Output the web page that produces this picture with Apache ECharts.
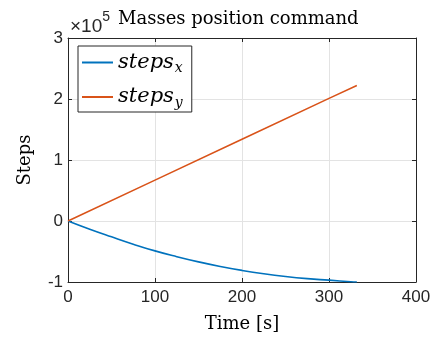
<!DOCTYPE html>
<html>
<head>
<meta charset="utf-8">
<script src="https://cdn.jsdelivr.net/npm/echarts@6/dist/echarts.min.js"></script>
<style>
  html, body { margin: 0; padding: 0; background: #fff; }
  #chart { width: 436px; height: 340px; }
</style>
</head>
<body>
<div id="chart"></div>
<script>
// time [s] and commanded steps
const stepsXTime = [0, 25, 50, 75, 100, 125, 150, 175, 200, 225, 250, 275, 300, 325, 332];
const stepsXValues = [0, -13500, -26000, -38000, -49000, -58500, -67000, -74500, -81000, -86500, -91000, -94500, -97000, -99500, -100000];
const stepsYTime = [0, 100, 200, 300, 332];
const stepsYValues = [0, 67000, 134000, 201000, 222000];
const xTicks = [0, 100, 200, 300, 400];
const yTicks = [-1, 0, 1, 2, 3];
const yScale = 1e5;

const axisColor = "#262626";
const gridColor = "#e3e3e3";
const sans = "Liberation Sans";
const serif = "DejaVu Serif";

const chart = echarts.init(document.getElementById("chart"));

const legendRich = {
  a: { fontFamily: serif, fontStyle: "italic", fontSize: 21, lineHeight: 26, color: "#000" },
  b: { fontFamily: serif, fontStyle: "italic", fontSize: 14, lineHeight: 26, color: "#000", verticalAlign: "bottom", padding: [8, 0, 0, 1] },
};

const options = {
  backgroundColor: "#fff",
  animation: false,
  title: [
    {
      text: "{m|×10}{e|5}",
      left: 65,
      top: 5,
      textStyle: {
        rich: {
          m: { fontFamily: sans, fontSize: 19, fontWeight: "normal", color: axisColor, padding: [7, 0, 0, 0] },
          e: { fontFamily: sans, fontSize: 14, fontWeight: "normal", color: axisColor, verticalAlign: "top", padding: [0, 0, 8, 0] },
        },
      },
    },
    {
      text: "Masses position command",
      left: 113,
      top: 5,
      textStyle: { fontFamily: serif, fontSize: 18, fontWeight: "normal", color: "#000" },
    },
  ],
  legend: {
    left: 78,
    top: 46,
    orient: "vertical",
    backgroundColor: "#fff",
    borderColor: axisColor,
    borderWidth: 1,
    borderRadius: 0,
    padding: [6, 9, 2, 4],
    icon: "rect",
    itemWidth: 31,
    itemHeight: 2,
    itemGap: 11,
    itemTextGap: 5,
    formatter(name) {
      return name === "steps_x" ? "{a|steps}{b|x}" : "{a|steps}{b|y}";
    },
    textStyle: { rich: legendRich },
    data: ["steps_x", "steps_y"],
  },
  grid: { left: 68, right: 20, top: 38, bottom: 58 },
  xAxis: [
    {
      type: "value",
      min: xTicks[0],
      max: xTicks[xTicks.length - 1],
      interval: 100,
      name: "Time [s]",
      nameLocation: "middle",
      nameGap: 33,
      nameTextStyle: { fontFamily: serif, fontSize: 18, color: "#000" },
      axisLine: { onZero: false, lineStyle: { color: axisColor, width: 1 } },
      axisTick: { inside: true, length: 4, lineStyle: { color: axisColor } },
      axisLabel: { fontFamily: sans, fontSize: 17, color: axisColor, margin: 7, showMinLabel: true, showMaxLabel: true },
      splitLine: { show: true, lineStyle: { color: gridColor, width: 1 } },
    },
    {
      type: "value",
      position: "top",
      min: xTicks[0],
      max: xTicks[xTicks.length - 1],
      interval: 100,
      axisLine: { show: true, onZero: false, lineStyle: { color: axisColor, width: 1 } },
      axisTick: { show: true, inside: true, length: 4, lineStyle: { color: axisColor } },
      axisLabel: { show: false },
      splitLine: { show: false },
    },
  ],
  yAxis: [
    {
      type: "value",
      min: yTicks[0] * yScale,
      max: yTicks[yTicks.length - 1] * yScale,
      interval: yScale,
      name: "Steps",
      nameLocation: "middle",
      nameGap: 34,
      nameTextStyle: { fontFamily: serif, fontSize: 18, color: "#000" },
      axisLine: { show: true, onZero: false, lineStyle: { color: axisColor, width: 1 } },
      axisTick: { show: true, inside: true, length: 4, lineStyle: { color: axisColor } },
      axisLabel: {
        fontFamily: sans, fontSize: 17, color: axisColor, margin: 5,
        showMinLabel: true, showMaxLabel: true,
        formatter(value) { return String(Math.round(value / yScale)); },
      },
      splitLine: { show: true, lineStyle: { color: gridColor, width: 1 } },
    },
    {
      type: "value",
      position: "right",
      min: yTicks[0] * yScale,
      max: yTicks[yTicks.length - 1] * yScale,
      interval: yScale,
      axisLine: { show: true, onZero: false, lineStyle: { color: axisColor, width: 1 } },
      axisTick: { show: true, inside: true, length: 4, lineStyle: { color: axisColor } },
      axisLabel: { show: false },
      splitLine: { show: false },
    },
  ],
  series: [
    {
      name: "steps_x",
      type: "line",
      symbol: "none",
      smooth: true,
      color: "#0072BD",
      lineStyle: { width: 1.6 },
      data: stepsXTime.map((t, i) => [t, stepsXValues[i]]),
    },
    {
      name: "steps_y",
      type: "line",
      symbol: "none",
      color: "#D95319",
      lineStyle: { width: 1.6 },
      data: stepsYTime.map((t, i) => [t, stepsYValues[i]]),
    },
  ],
};

chart.setOption(options);
</script>
</body>
</html>
